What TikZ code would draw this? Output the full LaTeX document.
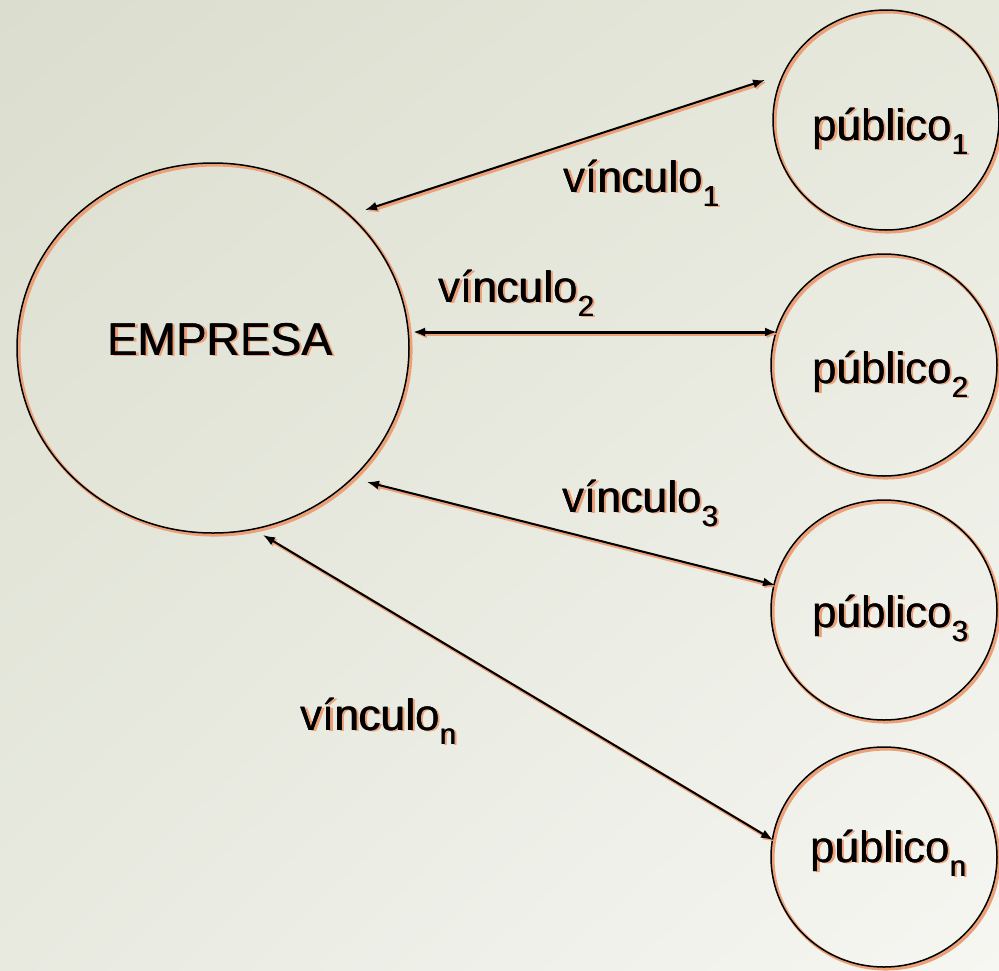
\documentclass[tikz,border=0pt]{standalone}
\usepackage{fontspec}
\setmainfont{Liberation Sans}
\usetikzlibrary{shapes.geometric,arrows.meta,shadings}
\definecolor{sal}{RGB}{236,160,120}
\definecolor{bgul}{RGB}{219,222,206}
\definecolor{bgur}{RGB}{230,232,220}
\definecolor{bgll}{RGB}{232,234,224}
\definecolor{bglr}{RGB}{246,246,242}
\newcommand\shtx[1]{\makebox[0pt][l]{\kern2.8pt\raisebox{-1.2pt}{\color{sal}#1}}\makebox[0pt][l]{\kern0.7pt#1}#1}
\newcommand\sbx[1]{\raisebox{-14pt}{\fontsize{29}{29}\selectfont #1}}
\begin{document}
\begin{tikzpicture}[x=1pt,y=-1pt,
  ring/.style={draw=black, line width=1.5pt, ellipse, inner sep=0pt,
    preaction={draw=sal, line width=3.5pt, transform canvas={xshift=1.8pt,yshift=-1.8pt}}},
  link/.style={line width=2pt, {Latex[length=12pt,width=9pt]}-{Latex[length=12pt,width=9pt]},
    preaction={draw=sal, line width=3.5pt, transform canvas={xshift=1.8pt,yshift=-1.8pt}}},
  lbl/.style={anchor=base west, inner sep=0pt, font=\fontsize{44}{50}\selectfont},
  big/.style={anchor=base west, inner sep=0pt, font=\fontsize{46}{52}\selectfont}]
\shade[upper left=bgul, upper right=bgur, lower left=bgll, lower right=bglr]
  (0,0) rectangle (999,970);
\useasboundingbox (0,0) rectangle (999,970);

% circles
\node[ring, minimum width=392pt, minimum height=370pt] (emp) at (213,348) {};
\node[ring, minimum width=226pt, minimum height=220pt] (p1) at (886,120) {};
\node[ring, minimum width=226pt, minimum height=222pt] (p2) at (884,365) {};
\node[ring, minimum width=226pt, minimum height=220pt] (p3) at (884,610) {};
\node[ring, minimum width=226pt, minimum height=220pt] (pn) at (884,857) {};

% texts
\node[big] (tEmp) at (107,355) {\shtx{EMPRESA}};
\node[lbl] (t1) at (812,140) {\shtx{público\sbx{1}}};
\node[lbl] (t2) at (812,383) {\shtx{público\sbx{2}}};
\node[lbl] (t3) at (812,627) {\shtx{público\sbx{3}}};
\node[lbl] (tn) at (810,862) {\shtx{público\sbx{n}}};
\node[lbl] (v1) at (563,192) {\shtx{vínculo\sbx{1}}};
\node[lbl] (v2) at (438,302) {\shtx{vínculo\sbx{2}}};
\node[lbl] (v3) at (562,512) {\shtx{vínculo\sbx{3}}};
\node[lbl] (vn) at (300,730) {\shtx{vínculo\sbx{n}}};

% connector ends
\coordinate (a1s) at (365,210); \coordinate (a1e) at (765,80);
\coordinate (a2s) at (413,332); \coordinate (a2e) at (777,332);
\coordinate (a3s) at (367,482); \coordinate (a3e) at (775,585);
\coordinate (ans) at (263,535); \coordinate (ane) at (773,840);

\draw[link] (a1s) -- (a1e);
\draw[link, line width=3pt] (a2s) -- (a2e);
\draw[link] (a3s) -- (a3e);
\draw[link] (ans) -- (ane);
\end{tikzpicture}
\end{document}
